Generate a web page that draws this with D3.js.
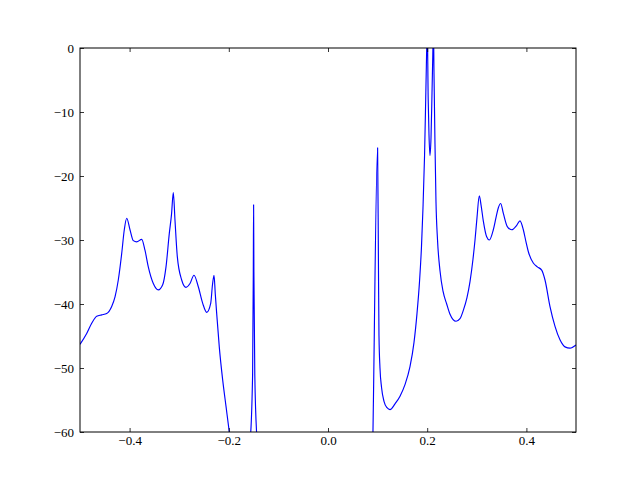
<!DOCTYPE html>
<html>
<head>
<meta charset="utf-8">
<script src="https://cdn.jsdelivr.net/npm/d3@7"></script>
<style>
  html, body { margin: 0; padding: 0; background: #fff; }
  svg { display: block; }
</style>
</head>
<body>
<svg id="chart" width="640" height="480"></svg>
<script>
// Normalized frequency (x) and magnitude in dB (y).
const freq = [
  -0.5, -0.4865, -0.4764, -0.4663, -0.4563, -0.4462, -0.4361, -0.4294, -0.4228, -0.4159,
  -0.4107, -0.4058, -0.3992, -0.3925, -0.3857, -0.3756, -0.3690, -0.3623, -0.3522, -0.3421,
  -0.3333, -0.3266, -0.3200, -0.3155, -0.3119, -0.3085, -0.3038, -0.2950, -0.2863, -0.2782,
  -0.2702, -0.2615, -0.2526, -0.2446, -0.2365, -0.2329, -0.2298, -0.2272, -0.2244, -0.2192,
  -0.2123, -0.2056, -0.1990, -0.1915, -0.1774, -0.1573, -0.1520, -0.1506, -0.1500, -0.1494,
  -0.1476, -0.1431, -0.1371, -0.0565, 0.0242, 0.0746, 0.0877, 0.1000, 0.1018, 0.1028,
  0.1048, 0.1079, 0.1129, 0.1190, 0.1250, 0.1351, 0.1452, 0.1552, 0.1653, 0.1734,
  0.1794, 0.1845, 0.1885, 0.1915, 0.1946, 0.1970, 0.1990, 0.2000, 0.2020, 0.2036, 0.2056,
  0.2077, 0.2097, 0.2113, 0.2125, 0.2137, 0.2157, 0.2177, 0.2208, 0.2258, 0.2319,
  0.2393, 0.2460, 0.2581, 0.2661, 0.2728, 0.2802, 0.2863, 0.2923, 0.2964, 0.3004,
  0.3050, 0.3085, 0.3131, 0.3199, 0.3252, 0.3333, 0.3387, 0.3433, 0.3482, 0.3534,
  0.3615, 0.3704, 0.3805, 0.3871, 0.3938, 0.3992, 0.4038, 0.4139, 0.4220, 0.4308,
  0.4375, 0.4476, 0.4577, 0.4677, 0.4778, 0.4879, 0.5
];
const magnitudeDb = [
  -46.3, -44.6, -43.0, -41.9, -41.7, -41.5, -40.4, -38.9, -36.25, -32.1,
  -28.4, -26.6, -28.4, -30.1, -30.3, -29.9, -31.6, -34.2, -36.8, -37.8,
  -37.0, -34.2, -29.0, -26.0, -22.6, -26.9, -32.6, -36.25, -37.4, -36.8,
  -35.5, -37.3, -39.9, -41.3, -39.9, -37.0, -35.5, -38.5, -41.5, -46.7,
  -51.9, -56.0, -60.0, -64.0, -68.0, -61.5, -51.0, -35.0, -24.5, -35.0,
  -51.0, -61.5, -68.0, -80.0, -82.0, -76.0, -70.0, -15.6, -35.0, -45.0,
  -50.0, -53.0, -55.2, -56.2, -56.5, -55.6, -54.4, -52.6, -49.8, -46.0,
  -41.5, -36.5, -31.0, -25.0, -17.0, -8.0, 0.0, 4.0, -8.0, -13.5, -16.8,
  -14.0, -7.0, -1.0, 4.0, -4.0, -15.0, -24.0, -30.0, -34.8, -38.0,
  -40.0, -41.6, -42.7, -42.3, -41.0, -39.0, -36.5, -33.0, -30.0, -26.5,
  -23.1, -24.5, -27.0, -29.5, -30.0, -28.4, -26.5, -25.0, -24.3, -25.8,
  -27.9, -28.4, -27.7, -27.0, -28.4, -30.3, -31.8, -33.6, -34.2, -34.7,
  -36.25, -40.4, -43.5, -45.6, -46.7, -46.9, -46.4
];
const xTicks = [-0.4, -0.2, 0.0, 0.2, 0.4];
const xTickLabels = ["\u22120.4", "\u22120.2", "0.0", "0.2", "0.4"];
const yTicks = [0, -10, -20, -30, -40, -50, -60];
const yTickLabels = ["0", "\u221210", "\u221220", "\u221230", "\u221240", "\u221250", "\u221260"];

const W = 640, H = 480;
const m = { left: 80, right: 64, top: 48, bottom: 48 };
const iw = W - m.left - m.right, ih = H - m.top - m.bottom;

const svg = d3.select("#chart");
const g = svg.append("g").attr("transform", `translate(${m.left},${m.top})`);

const x = d3.scaleLinear().domain([-0.5, 0.5]).range([0, iw]);
const y = d3.scaleLinear().domain([-60, 0]).range([ih, 0]);

g.append("defs").append("clipPath").attr("id", "clip")
  .append("rect").attr("width", iw).attr("height", ih);

const data = freq.map((f, i) => [f, magnitudeDb[i]]);
const line = d3.line().x(d => x(d[0])).y(d => y(d[1])).curve(d3.curveMonotoneX);

g.append("path").datum(data)
  .attr("clip-path", "url(#clip)")
  .attr("fill", "none").attr("stroke", "#0000ff").attr("stroke-width", 1.15)
  .attr("stroke-linejoin", "round")
  .attr("d", line);

function styleAxis(sel) {
  sel.attr("font-family", "'Liberation Serif', 'DejaVu Serif', serif").attr("font-size", 13);
  sel.select(".domain").remove();
  sel.selectAll(".tick line").attr("stroke", "#000").attr("stroke-width", 0.8);
  sel.selectAll(".tick text").attr("fill", "#000");
}

// bottom
g.append("g").attr("transform", `translate(0,${ih})`)
  .call(d3.axisBottom(x).tickValues(xTicks).tickFormat((d, i) => xTickLabels[i]).tickSizeInner(-4).tickSizeOuter(0).tickPadding(3.5))
  .call(styleAxis);
// top
g.append("g")
  .call(d3.axisTop(x).tickValues(xTicks).tickFormat("").tickSizeInner(-4).tickSizeOuter(0))
  .call(styleAxis);
// left
g.append("g")
  .call(d3.axisLeft(y).tickValues(yTicks).tickFormat((d, i) => yTickLabels[i]).tickSizeInner(-4).tickSizeOuter(0).tickPadding(6))
  .call(styleAxis);
// right
g.append("g").attr("transform", `translate(${iw},0)`)
  .call(d3.axisRight(y).tickValues(yTicks).tickFormat("").tickSizeInner(-4).tickSizeOuter(0))
  .call(styleAxis);

g.append("rect").attr("width", iw).attr("height", ih)
  .attr("fill", "none").attr("stroke", "#000").attr("stroke-width", 1);
</script>
</body>
</html>
